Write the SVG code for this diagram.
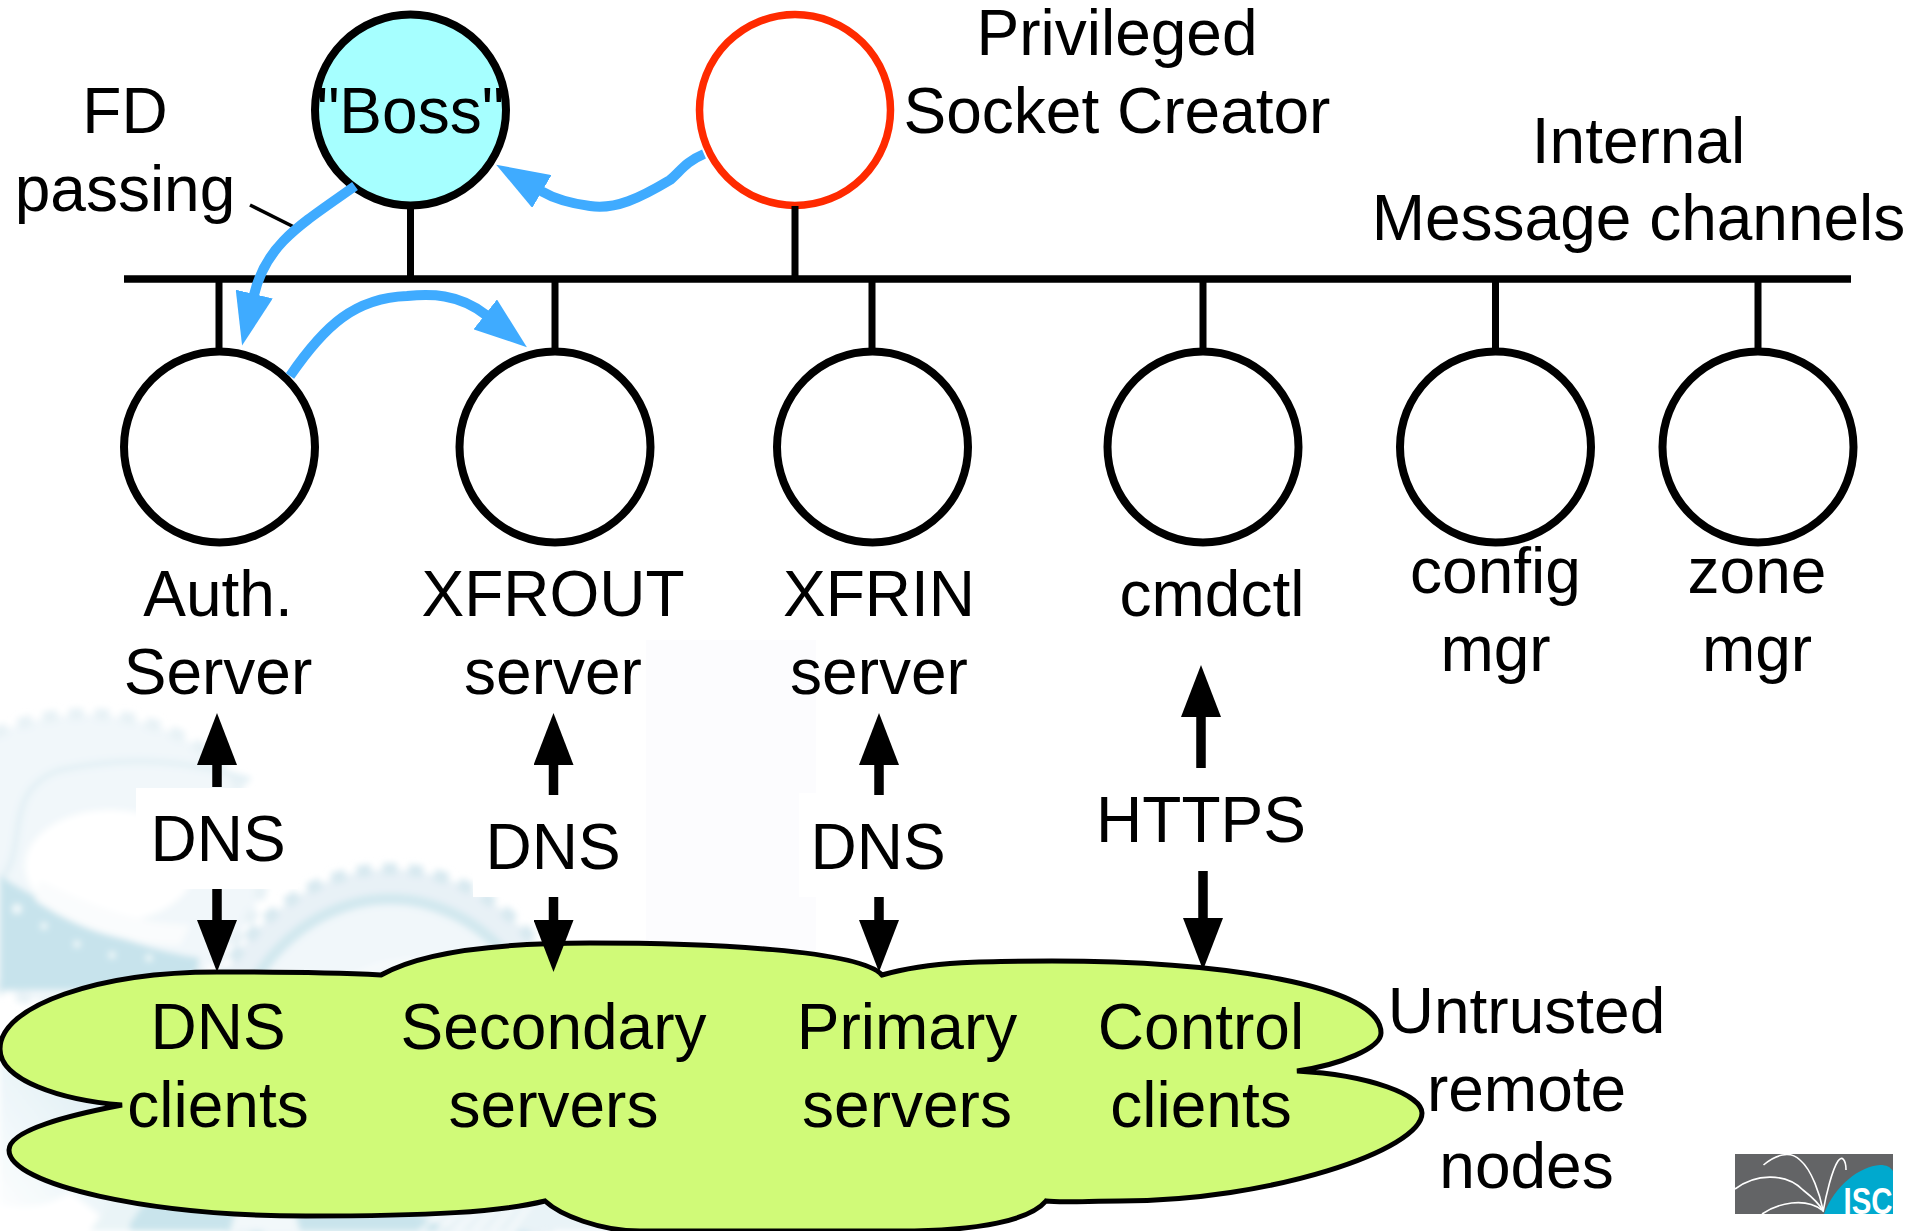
<svg xmlns="http://www.w3.org/2000/svg" width="1920" height="1231" viewBox="0 0 1920 1231">
<style>
text{font-family:"Liberation Sans",Arial,sans-serif;font-size:64px;fill:#000;text-anchor:middle}
.c{fill:#fff;stroke:#000;stroke-width:8}
.stem{stroke:#000;stroke-width:7;fill:none}
.bi{stroke:#000;stroke-width:9.500;fill:none;marker-end:url(#bh)}
.fd{stroke:#3fabff;stroke-width:10;fill:none;marker-end:url(#fh)}
.lg{fill:none;stroke:#fff;stroke-width:1.6}
</style>
<defs>
<marker id="bh" markerUnits="userSpaceOnUse" markerWidth="52" markerHeight="40" refX="0" refY="20" orient="auto"><path d="M0 0L52 20L0 40Z" fill="#000"/></marker>
<marker id="fh" markerUnits="userSpaceOnUse" markerWidth="53" markerHeight="38" refX="1" refY="19" orient="auto"><path d="M0 0L53 19L0 38Z" fill="#3fabff"/></marker>
<filter id="soft" x="-10%" y="-10%" width="120%" height="120%"><feGaussianBlur stdDeviation="3"/></filter>
<linearGradient id="fade" x1="1" y1="0" x2="0" y2="1"><stop offset="0" stop-color="#d3e8f0"/><stop offset="1" stop-color="#fff"/></linearGradient>
</defs>
<rect width="1920" height="1231" fill="#fff"/>
<g id="background">
<rect x="646" y="640" width="170" height="330" fill="#fcfcfe"/>
<g filter="url(#soft)">
<ellipse cx="85" cy="860" rx="180" ry="146" fill="#f1f7fa" stroke="#e8f2f6" stroke-width="12" stroke-dasharray="14 12"/>
<path d="M0 880C30 850 0 790 60 770C130 755 190 760 250 780" fill="none" stroke="#e3f0f5" stroke-width="6"/>
<path d="M0 876C40 900 110 945 200 958L190 990H0Z" fill="#c7e3ec"/>
<ellipse cx="110" cy="866" rx="85" ry="56" fill="#fff"/>
<path d="M40 880C90 905 140 925 190 925L180 945C120 945 70 925 35 900Z" fill="#fafcfd"/>
<g fill="#f2f9fb"><circle cx="17" cy="909" r="5"/><circle cx="44" cy="926" r="3.500"/><circle cx="77" cy="944" r="3.500"/><circle cx="112" cy="955" r="3.500"/><circle cx="149" cy="958" r="3.500"/></g>
<ellipse cx="390" cy="1095" rx="196" ry="226" fill="#e8f1f6" stroke="#d8e9f0" stroke-width="12" stroke-dasharray="14 12"/>
<ellipse cx="390" cy="1105" rx="170" ry="206" fill="#f1f7fa" stroke="#d2e8ef" stroke-width="11"/>
<path d="M320 1010C350 960 420 945 520 980" fill="none" stroke="#f8fbfc" stroke-width="5"/>
<path d="M0 1040H150V1231H0Z" fill="url(#fade)"/>
<path d="M0 1205C40 1212 60 1198 70 1192L120 1231H0Z" fill="#fff"/>
<path d="M130 1190H640L640 1231H130Z" fill="#c9e4ec"/>
<path d="M150 1195L125 1231H90L115 1195Z" fill="#eaf4f7"/>
<path d="M240 1195H290L300 1231H230Z" fill="#f2f8fa"/>
<path d="M380 1195L450 1231H640V1195Z" fill="#e9f3f7"/>
<path d="M420 1231L450 1205M438 1231L466 1205M456 1231L482 1205M474 1231L498 1205M492 1231L514 1205M510 1231L530 1205" stroke="#fff" stroke-width="2.500" fill="none"/>
</g>
<rect x="136" y="788" width="162" height="101" fill="#fff"/>
<rect x="473" y="793" width="164" height="104" fill="#fff"/>
<rect x="799" y="793" width="164" height="104" fill="#fff"/>
</g>
<g id="cloud">
<path d="M381 975C425 950 510 943 590 943C710 943 860 950 882 975C930 961 990 961 1052 961C1220 961 1381 985 1381 1033C1381 1048 1340 1065 1297 1071C1370 1075 1422 1095 1422 1113C1422 1150 1270 1201 1120 1201C1090 1201 1060 1203 1046 1201C1030 1220 980 1231 900 1231H640C600 1231 560 1215 545 1201C500 1212 430 1216 306 1216C150 1216 9 1185 9 1150C9 1130 70 1115 122 1105C60 1100 0 1080 0 1049C0 1005 100 972 217 972C290 972 340 973 381 975Z" fill="#d0fa78" stroke="#000" stroke-width="5"/>
<text x="218" y="1049">DNS</text>
<text x="218" y="1127">clients</text>
<text x="553.500" y="1049">Secondary</text>
<text x="553.500" y="1127">servers</text>
<text x="907" y="1049">Primary</text>
<text x="907" y="1127">servers</text>
<text x="1201" y="1049">Control</text>
<text x="1201" y="1127">clients</text>
</g>
<g id="boss"><circle cx="410.500" cy="110" r="95.500" fill="#a6ffff" stroke="#000" stroke-width="8"/><text x="410.500" y="133">"Boss"</text></g>
<g id="socket-creator"><circle cx="795" cy="110" r="95.500" fill="#fff" stroke="#ff2a00" stroke-width="7.500"/><text x="1117" y="55">Privileged</text><text x="1117" y="133">Socket Creator</text></g>
<g id="auth"><circle class="c" cx="219.500" cy="447" r="95.500"/><text x="218" y="616">Auth.</text><text x="218" y="694">Server</text></g>
<g id="xfrout"><circle class="c" cx="555" cy="447" r="95.500"/><text x="553" y="616">XFROUT</text><text x="553" y="694">server</text></g>
<g id="xfrin"><circle class="c" cx="872.500" cy="447" r="95.500"/><text x="879" y="616">XFRIN</text><text x="879" y="694">server</text></g>
<g id="cmdctl"><circle class="c" cx="1203" cy="447" r="95.500"/><text x="1212" y="616">cmdctl</text></g>
<g id="config-mgr"><circle class="c" cx="1495.500" cy="447" r="95.500"/><text x="1495.500" y="593">config</text><text x="1495.500" y="671">mgr</text></g>
<g id="zone-mgr"><circle class="c" cx="1758" cy="447" r="95.500"/><text x="1757" y="593">zone</text><text x="1757" y="671">mgr</text></g>
<g id="connectors">
<path d="M124 279H1851" stroke="#000" stroke-width="7.500" fill="none"/>
<path class="stem" d="M410.500 206V279M795 206V279M219 279V350M555 279V350M872 279V350M1203 279V350M1495.500 279V350M1758 279V350"/>
<path d="M250 205L298 229" stroke="#000" stroke-width="3.500" fill="none"/>
<path class="fd" d="M355 186C300 225 266 244 254 295"/>
<path class="fd" d="M290 376C325 325 355 298 407 296C430 294 458 293 486 315"/>
<path class="fd" d="M704 154C685 162 680 172 670 180C640 198 615 210 590 206C575 204 558 201 541 191"/>
<path class="bi" d="M217 787V765"/><path class="bi" d="M217 889V920"/>
<path class="bi" d="M553.500 795V765"/><path class="bi" d="M553.500 897V920"/>
<path class="bi" d="M879 795V765"/><path class="bi" d="M879 897V920"/>
<path class="bi" d="M1201 768V717"/><path class="bi" d="M1203 871V918"/>
</g>
<g id="labels">
<text x="125" y="133">FD</text><text x="125" y="211">passing</text>
<text x="1638.500" y="163">Internal</text><text x="1638.500" y="240">Message channels</text>
<text x="218" y="861">DNS</text><text x="553" y="869">DNS</text><text x="878" y="869">DNS</text>
<text x="1201" y="842">HTTPS</text>
<text x="1526.500" y="1033">Untrusted</text><text x="1526.500" y="1111">remote</text><text x="1526.500" y="1188">nodes</text>
</g>
<g id="isc-logo">
<rect x="1735" y="1154" width="158" height="60" fill="#636466"/>
<path d="M1824 1214C1834 1186 1860 1166 1880 1165C1887 1165 1890 1167 1893 1171V1214Z" fill="#00a9ce"/>
<path class="lg" d="M1763.500 1165C1775 1155 1790 1150 1800 1160C1812 1170 1820 1195 1823 1210"/>
<path class="lg" d="M1735 1189C1755 1174 1785 1172 1803 1190C1812 1197 1820 1205 1823 1211"/>
<path class="lg" d="M1762 1214C1778 1203 1805 1197 1822 1210"/>
<path class="lg" d="M1846 1170C1846 1160 1842 1155 1838 1161C1832 1170 1826 1195 1823 1212"/>
<text x="1868" y="1214" textLength="49" lengthAdjust="spacingAndGlyphs" style="font-size:36px;font-weight:bold;fill:#fff">ISC</text>
</g>
</svg>
